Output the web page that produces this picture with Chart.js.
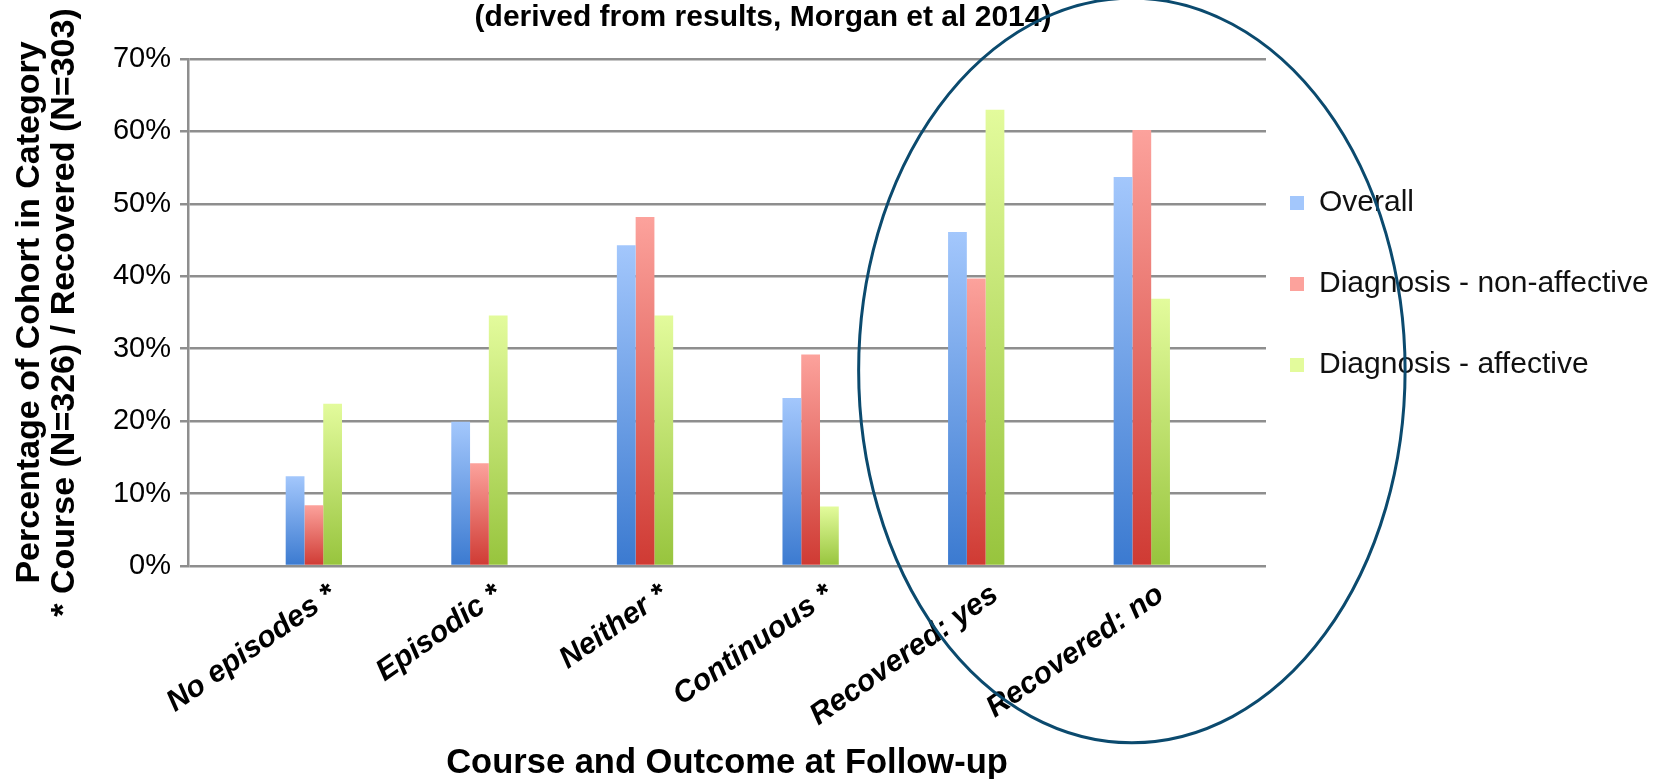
<!DOCTYPE html>
<html>
<head>
<meta charset="utf-8">
<title>Course and Outcome at Follow-up</title>
<script src="https://cdn.jsdelivr.net/npm/chart.js@4.4.1/dist/chart.umd.min.js"></script>
<style>
  html, body { margin: 0; padding: 0; background: #fff; }
  canvas { display: block; }
</style>
</head>
<body>
<canvas id="followupChart" width="1653" height="779"></canvas>
<script>
// percentages per follow-up category
const categories = ["No episodes *", "Episodic *", "Neither *", "Continuous *", "Recovered: yes", "Recovered: no"];
const overall = [12.4, 19.9, 44.3, 23.2, 46.1, 53.7];
const nonAffective = [8.4, 14.2, 48.2, 29.2, 39.7, 60.2];
const affective = [22.4, 34.6, 34.6, 8.2, 63.0, 36.9];
const yTicks = [0, 10, 20, 30, 40, 50, 60, 70];

// ring around the two "Recovered" groups, in axis units
const highlight = { x: 4.94, y: 27, rx: 1.65, ry: 51.4 };

Chart.defaults.font.family = '"Liberation Sans", Arial, Helvetica, sans-serif';
Chart.defaults.color = "#000";

// vertical gradient per bar, light at the top and darker at the base
function barFill(top, bottom, flat) {
    return (c) => {
        const ys = c.chart.scales.y;
        if (c.type !== "data" || !ys) return flat;
        const y0 = ys.getPixelForValue(0);
        const y1 = ys.getPixelForValue(c.parsed.y);
        if (!isFinite(y0) || !isFinite(y1) || y0 === y1) return flat;
        const g = c.chart.ctx.createLinearGradient(0, y1, 0, y0);
        g.addColorStop(0, top);
        g.addColorStop(1, bottom);
        return g;
    };
}

function points(values) {
    return values.map((v, i) => ({ x: i, y: v }));
}

// Chart.js ties the legend's row gap to its left inset, so place it after layout
const legendPlacement = {
    id: "legendPlacement",
    afterLayout(chart) {
        const lg = chart.legend;
        lg.left = chart.chartArea.right - 27;
        lg.top = 137;
        const t = chart.titleBlock;
        t.left += 36;
        t.right += 36;
    },
};

const highlightRing = {
    id: "highlightRing",
    afterDraw(chart) {
        const { ctx, scales } = chart;
        const cx = scales.x.getPixelForValue(highlight.x);
        const cy = scales.y.getPixelForValue(highlight.y);
        const rx = Math.abs(scales.x.getPixelForValue(highlight.x + highlight.rx) - cx);
        const ry = Math.abs(scales.y.getPixelForValue(highlight.y + highlight.ry) - cy);
        ctx.save();
        ctx.beginPath();
        ctx.ellipse(cx, cy, rx, ry, 0, 0, Math.PI * 2);
        ctx.strokeStyle = "#0b4a6e";
        ctx.lineWidth = 3;
        ctx.stroke();
        ctx.restore();
    },
};

const ctx = document.getElementById("followupChart").getContext("2d");
new Chart(ctx, {
    type: "bar",
    data: {
        datasets: [
            {
                label: "Overall",
                data: points(overall),
                backgroundColor: barFill("#a3c7fc", "#3b7ad0", "#5b93e0"),
            },
            {
                label: "Diagnosis - non-affective",
                data: points(nonAffective),
                backgroundColor: barFill("#fca29c", "#cf3a33", "#e05a55"),
            },
            {
                label: "Diagnosis - affective",
                data: points(affective),
                backgroundColor: barFill("#e3fb9c", "#97c43d", "#b5dc66"),
            },
        ],
    },
    options: {
        responsive: false,
        animation: false,
        layout: { padding: 0 },
        datasets: {
            bar: {
                categoryPercentage: 0.34,
                barPercentage: 1.0,
                borderWidth: 0,
            },
        },
        plugins: {
            title: {
                display: true,
                text: "(derived from results, Morgan et al 2014)",
                fullSize: false,
                font: { size: 30, weight: "bold", lineHeight: 1 },
                padding: { top: 3, bottom: 26 },
            },
            legend: {
                position: "right",
                align: "start",
                maxWidth: 387,
                labels: {
                    boxWidth: 14,
                    boxHeight: 14,
                    padding: 51,
                    font: { size: 30 },
                    color: "#111",
                },
            },
            tooltip: { enabled: false },
        },
        scales: {
            x: {
                type: "linear",
                min: -0.76,
                max: 5.75,
                offset: false,
                afterFit: (s) => { s.height = 213; },
                grid: { display: false },
                border: { display: false },
                ticks: {
                    stepSize: 1,
                    includeBounds: false,
                    autoSkip: false,
                    minRotation: 35,
                    maxRotation: 35,
                    padding: 3,
                    labelOffset: 19,
                    font: { size: 30, weight: "bold", style: "italic" },
                    callback: (v) => categories[v] ?? "",
                },
                title: {
                    display: true,
                    text: "Course and Outcome at Follow-up",
                    font: { size: 34.5, weight: "bold", lineHeight: 0.9 },
                    padding: { top: 0, bottom: 0 },
                },
            },
            y: {
                min: 0,
                max: 70,
                afterFit: (s) => { s.width = 188; },
                afterBuildTicks: (s) => { s.ticks = yTicks.map((v) => ({ value: v })); },
                grid: { color: "#8e8e8e", lineWidth: 2.5, drawTicks: true, tickLength: 8 },
                border: { color: "#8e8e8e", width: 2.5 },
                ticks: {
                    padding: 9,
                    font: { size: 29 },
                    callback: (v) => v + "%",
                },
                title: {
                    display: true,
                    text: ["Percentage of Cohort in Category", "* Course (N=326) / Recovered (N=303)"],
                    font: { size: 34, weight: "bold", lineHeight: 1.03 },
                    padding: { top: 12, bottom: 0 },
                },
            },
        },
    },
    plugins: [legendPlacement, highlightRing],
});
</script>
</body>
</html>
